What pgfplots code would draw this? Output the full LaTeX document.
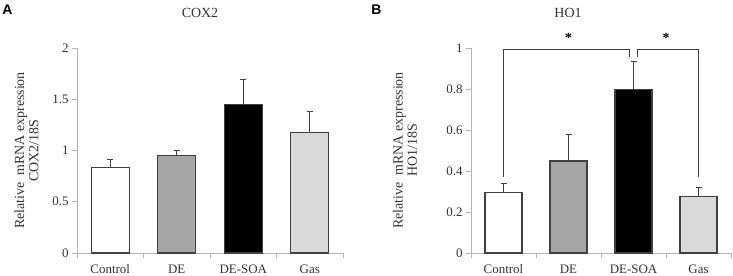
\documentclass[border=0pt]{standalone}
\usepackage{pgfplots}
\pgfplotsset{compat=1.18}
\usepackage{fontspec}
\setmainfont{Liberation Serif}
\newfontfamily\labfont{Liberation Sans}
\definecolor{edge}{HTML}{404040}
\definecolor{axl}{HTML}{B4B4B4}
\definecolor{txt}{HTML}{333333}
\definecolor{gmid}{HTML}{A6A6A6}
\definecolor{glight}{HTML}{D9D9D9}
\pgfplotsset{
  myax/.style={
    scale only axis,
    xmin=-0.5, xmax=3.5, ymin=0,
    axis x line=bottom, axis y line=left,
    axis line style={-, draw=axl, line width=0.8bp},
    xtick={0,1,2,3},
    xticklabels={Control,DE,DE-SOA,Gas},
    major x tick style={draw=none},
    minor xtick={-0.5,0.5,1.5,2.5,3.5},
    minor x tick style={draw=axl, line width=0.8bp},
    minor tick length=5bp,
    major tick length=5bp,
    tick align=outside,
    y tick style={draw=axl, line width=0.8bp},
    /pgf/number format/assume math mode=true,
    /pgf/number format/fixed,
    tick label style={font=\fontsize{13}{15}\selectfont, text=txt},
    xticklabel style={yshift=-3bp},
    ylabel style={font=\fontsize{14}{14.5}\selectfont, text=txt, align=center, rotate=0},
    clip=false,
    every axis plot/.append style={bar width=0.57, bar shift=0pt, draw=edge, line width=1.2bp},
    error bars/y dir=plus, error bars/y explicit,
    error bars/error mark=-,
    error bars/error bar style={draw=edge, line width=0.9bp},
    error bars/error mark options={rotate=90, draw=edge, line width=0.9bp, mark size=3bp},
  }
}
\begin{document}
\begin{tikzpicture}
\useasboundingbox (0,0) rectangle (733bp,276bp);
\node[font=\labfont\bfseries\fontsize{14}{14}\selectfont, anchor=center] at (7.5bp,266bp) {A};
\node[font=\labfont\bfseries\fontsize{14}{14}\selectfont, anchor=center] at (376.5bp,266bp) {B};
\node[font=\fontsize{14}{14}\selectfont, text=txt] at (200bp,263bp) {COX2};
\node[font=\fontsize{14}{14}\selectfont, text=txt] at (568bp,263bp) {HO1};
% Panel A
\begin{axis}[myax,
  at={(77bp,23bp)}, anchor=south west,
  width=266bp, height=205bp,
  ymax=2, ytick={0,0.5,1,1.5,2},
  ylabel={Relative\ \ mRNA expression\\COX2/18S},
  ylabel style={at={(axis description cs:-0.19,0.5)}, anchor=center},
]
\addplot[ybar, fill=white] coordinates {(0,0.834) +- (0,0.081)};
\addplot[ybar, fill=gmid] coordinates {(1,0.948) +- (0,0.052)};
\addplot[ybar, fill=black] coordinates {(2,1.452) +- (0,0.238)};
\addplot[ybar, fill=glight] coordinates {(3,1.177) +- (0,0.206)};
\end{axis}
% Panel B
\begin{axis}[myax,
  at={(471bp,23bp)}, anchor=south west,
  width=260bp, height=205bp,
  ymax=1, ytick={0,0.2,0.4,0.6,0.8,1},
  ylabel={Relative\ \ mRNA expression\\HO1/18S},
  ylabel style={at={(axis description cs:-0.254,0.5)}, anchor=center},
]
\addplot[ybar, fill=white] coordinates {(0,0.294) +- (0,0.044)};
\addplot[ybar, fill=gmid] coordinates {(1,0.449) +- (0,0.127)};
\addplot[ybar, fill=black] coordinates {(2,0.797) +- (0,0.138)};
\addplot[ybar, fill=glight] coordinates {(3,0.275) +- (0,0.045)};
\addplot[sharp plot, no marks, draw=edge, line width=0.9bp, error bars/y dir=none] coordinates {(0,0.37) (0,0.992) (1.94,0.992) (1.94,0.955)};
\addplot[sharp plot, no marks, draw=edge, line width=0.9bp, error bars/y dir=none] coordinates {(2.06,0.955) (2.06,0.992) (3,0.992) (3,0.37)};
\node[font=\bfseries\fontsize{14}{14}\selectfont, text=black] at (axis cs:1,1.05) {*};
\node[font=\bfseries\fontsize{14}{14}\selectfont, text=black] at (axis cs:2.5,1.05) {*};
\end{axis}
\end{tikzpicture}
\end{document}
